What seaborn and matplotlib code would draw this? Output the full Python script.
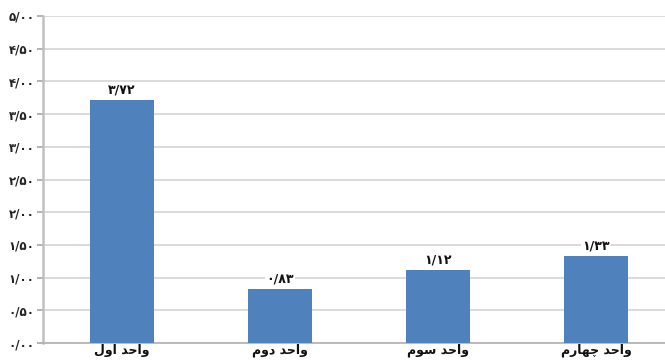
import matplotlib
matplotlib.use("Agg")
import matplotlib.pyplot as plt
import seaborn as sns
import pandas as pd

# ---- data ----
categories = ["واحد اول", "واحد دوم", "واحد سوم", "واحد چهارم"]
values = [3.72, 0.83, 1.12, 1.33]
value_labels = ["۳/۷۲", "۰/۸۳", "۱/۱۲", "۱/۳۳"]
y_ticks = [0.0, 0.5, 1.0, 1.5, 2.0, 2.5, 3.0, 3.5, 4.0, 4.5, 5.0]
y_tick_labels = ["۰/۰۰", "۰/۵۰", "۱/۰۰", "۱/۵۰", "۲/۰۰", "۲/۵۰",
                 "۳/۰۰", "۳/۵۰", "۴/۰۰", "۴/۵۰", "۵/۰۰"]

# ---- minimal Arabic/Persian shaping (matplotlib has no complex text layout) ----
FORMS = {  # isolated, final, initial, medial
    "ا": ("\uFE8D", "\uFE8E", None, None),
    "د": ("\uFEA9", "\uFEAA", None, None),
    "ر": ("\uFEAD", "\uFEAE", None, None),
    "و": ("\uFEED", "\uFEEE", None, None),
    "ح": ("\uFEA1", "\uFEA2", "\uFEA3", "\uFEA4"),
    "ل": ("\uFEDD", "\uFEDE", "\uFEDF", "\uFEE0"),
    "م": ("\uFEE1", "\uFEE2", "\uFEE3", "\uFEE4"),
    "س": ("\uFEB1", "\uFEB2", "\uFEB3", "\uFEB4"),
    "ه": ("\uFEE9", "\uFEEA", "\uFEEB", "\uFEEC"),
    "چ": ("\uFB7A", "\uFB7B", "\uFB7C", "\uFB7D"),
}


def shape(text):
    out = []
    for i, ch in enumerate(text):
        if ch not in FORMS:
            out.append(ch)
            continue
        prev = text[i - 1] if i > 0 else None
        nxt = text[i + 1] if i + 1 < len(text) else None
        dual = FORMS[ch][2] is not None
        pj = prev in FORMS and FORMS[prev][2] is not None
        nj = dual and nxt in FORMS
        if pj and nj:
            f = FORMS[ch][3]
        elif pj:
            f = FORMS[ch][1]
        elif nj:
            f = FORMS[ch][2]
        else:
            f = FORMS[ch][0]
        out.append(f)
    return "".join(out)[::-1]


df = pd.DataFrame({"cat": categories, "val": values})

sns.set_theme(style="white")
plt.rcParams["font.family"] = ["DejaVu Sans"]

fig = plt.figure(figsize=(6.65, 3.6), dpi=100)
ax = fig.add_axes([43 / 665, 17 / 360, 1 - 43 / 665, 327 / 360])

sns.barplot(data=df, x="cat", y="val", color="#4F81BD", saturation=1,
            width=0.40, linewidth=0, ax=ax, zorder=3)

ax.set_ylim(0, 5)
ax.set_xlim(-0.5, 3.437)
ax.set_yticks(y_ticks)
ax.set_yticklabels(y_tick_labels, fontsize=8.5, fontweight="bold", color="#222222")
ax.set_xticks(range(len(categories)))
ax.set_xticklabels([shape(c) for c in categories], fontsize=9,
                   fontweight="bold", color="#111111")
ax.set_xticks([0.5, 1.5, 2.5], minor=True)
ax.tick_params(axis="x", which="major", length=0, pad=0.5)
ax.tick_params(axis="x", which="minor", length=3, color="#BBBBBB", direction="out")
ax.tick_params(axis="y", length=4, color="#AAAAAA", direction="out", pad=2, left=True)
ax.set_xlabel("")
ax.set_ylabel("")

ax.grid(axis="y", color="#D4D4D4", linewidth=1.2, zorder=0)
ax.grid(axis="x", visible=False)
for s in ["top", "right"]:
    ax.spines[s].set_visible(False)
ax.spines["left"].set_color("#C0C0C0")
ax.spines["left"].set_linewidth(1.8)
ax.spines["bottom"].set_color("#B0B0B0")
ax.spines["bottom"].set_linewidth(1.2)

for i, (v, lab) in enumerate(zip(values, value_labels)):
    ax.text(i, v + 0.05, lab, ha="center", va="bottom", fontsize=9,
            fontweight="bold", color="#111111", zorder=4,
            bbox=dict(facecolor="white", edgecolor="none", pad=1))

fig.savefig("out.png", dpi=100)
